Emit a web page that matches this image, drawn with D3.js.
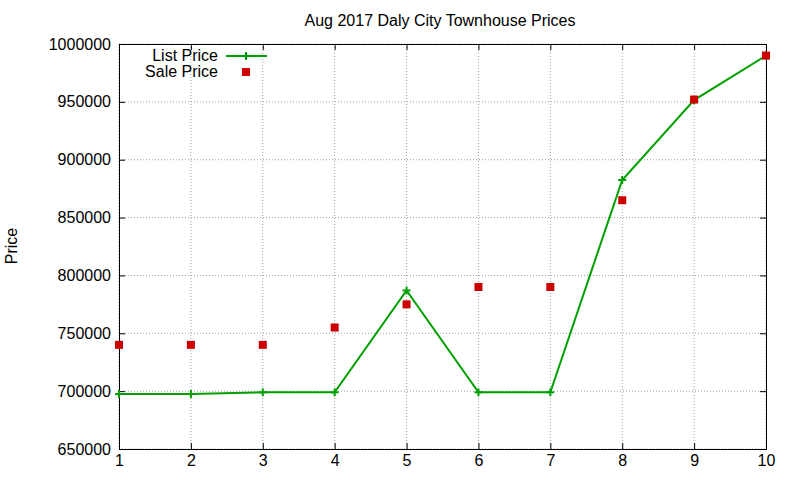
<!DOCTYPE html>
<html><head><meta charset="utf-8">
<script src="https://cdn.jsdelivr.net/npm/d3@7"></script>
<style>body{margin:0;background:#fff}text{font-family:"Liberation Sans",Arial,sans-serif}</style>
</head><body><svg id="c" width="800" height="480"></svg>
<script>
const xs=[1,2,3,4,5,6,7,8,9,10];
const listPrice=[697500,697500,699000,699000,787000,699000,699000,882500,951500,990000];
const salePrice=[740000,740000,740000,755000,775000,790000,790000,865000,952000,990000];
const yTicks=[650000,700000,750000,800000,850000,900000,950000,1000000];
const svg=d3.select("#c");
const x=d3.scaleLinear().domain([1,10]).range([119,766]);
const y=d3.scaleLinear().domain([650000,1000000]).range([449,44]);
const g=svg.append("g");
g.selectAll(".gx").data(xs).join("line").attr("x1",d=>x(d)).attr("x2",d=>x(d)).attr("y1",44).attr("y2",449).attr("stroke","#a0a0a0").attr("stroke-dasharray","1,2");
g.selectAll(".gy").data(yTicks).join("line").attr("x1",119).attr("x2",766).attr("y1",d=>y(d)).attr("y2",d=>y(d)).attr("stroke","#a0a0a0").attr("stroke-dasharray","1,2");
svg.append("g").attr("transform","translate(0,449)").call(d3.axisBottom(x).tickValues(xs).tickSize(-6).tickPadding(6));
svg.append("g").attr("transform","translate(119,0)").call(d3.axisLeft(y).tickValues(yTicks).tickSize(-6).tickPadding(8).tickFormat(d3.format("d")));
svg.append("g").attr("transform","translate(0,44)").call(d3.axisTop(x).tickValues(xs).tickSize(-6).tickFormat(""));
svg.append("g").attr("transform","translate(766,0)").call(d3.axisRight(y).tickValues(yTicks).tickSize(-6).tickFormat(""));
svg.selectAll(".domain").attr("stroke","#000");
svg.selectAll(".tick text").attr("font-size",16).attr("fill","#000").attr("font-family","Liberation Sans, Arial, sans-serif");
svg.append("text").attr("x",440).attr("y",26).attr("text-anchor","middle").attr("font-size",16).text("Aug 2017 Daly City Townhouse Prices");
svg.append("text").attr("transform","translate(17,246) rotate(-90)").attr("text-anchor","middle").attr("font-size",16).text("Price");
const line=d3.line().x((d,i)=>x(xs[i])).y(d=>y(d));
svg.append("path").datum(listPrice).attr("d",line).attr("fill","none").attr("stroke","#00a000").attr("stroke-width",2);
const plus=(sel)=>{sel.append("line").attr("x1",-4).attr("x2",4).attr("stroke","#00a000").attr("stroke-width",2);sel.append("line").attr("y1",-4).attr("y2",4).attr("stroke","#00a000").attr("stroke-width",2);};
svg.selectAll(".lp").data(listPrice).join("g").attr("transform",(d,i)=>`translate(${x(xs[i])},${y(d)})`).call(plus);
svg.selectAll(".sp").data(salePrice).join("rect").attr("x",(d,i)=>x(xs[i])-4).attr("y",d=>y(d)-4).attr("width",8).attr("height",8).attr("fill","#cc0000");
svg.append("text").attr("x",218).attr("y",61).attr("text-anchor","end").attr("font-size",16).text("List Price");
svg.append("line").attr("x1",226).attr("x2",267).attr("y1",56).attr("y2",56).attr("stroke","#00a000").attr("stroke-width",2);
svg.append("g").attr("transform","translate(246,56)").call(plus);
svg.append("text").attr("x",218).attr("y",77).attr("text-anchor","end").attr("font-size",16).text("Sale Price");
svg.append("rect").attr("x",242).attr("y",68).attr("width",8).attr("height",8).attr("fill","#cc0000");
</script></body></html>
